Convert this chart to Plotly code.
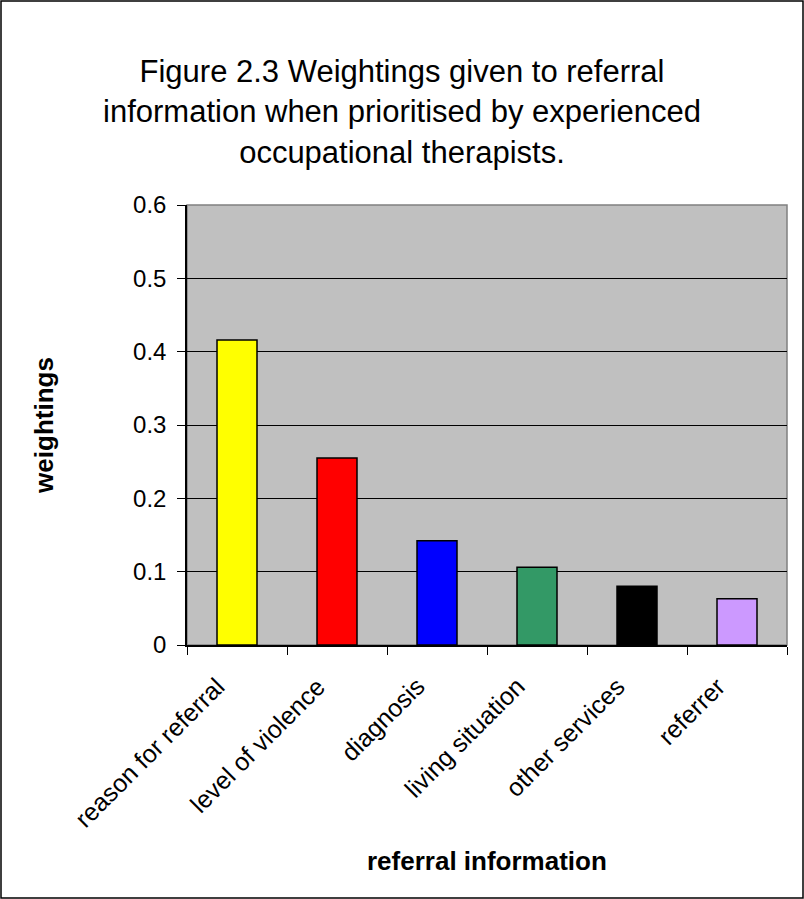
import plotly.graph_objects as go

categories = ["reason for referral", "level of violence", "diagnosis",
              "living situation", "other services", "referrer"]
weightings = [0.416, 0.255, 0.142, 0.106, 0.080, 0.063]
bar_colors = ["#FFFF00", "#FF0000", "#0000FF", "#339966", "#000000", "#CC99FF"]
y_ticks = [0, 0.1, 0.2, 0.3, 0.4, 0.5, 0.6]
y_tick_labels = ["0", "0.1", "0.2", "0.3", "0.4", "0.5", "0.6"]

W, H = 804, 899
L, R, T, B = 187, 17, 205, 254
pw, ph = W - L - R, H - T - B

def px_to_paper_x(px):
    return (px - L) / pw

def px_to_paper_y(py):
    return (H - B - py) / ph

FONT = "Liberation Sans, Arial, sans-serif"

fig = go.Figure()
fig.add_trace(go.Bar(
    x=categories, y=weightings,
    marker=dict(color=bar_colors, line=dict(color="black", width=1.5)),
    width=0.4,
))

# rotated category labels as annotations for precise placement
annotations = []
for c in categories:
    annotations.append(dict(
        x=c, y=0, xref="x", yref="y", text=c, showarrow=False,
        textangle=-45, xanchor="right", yanchor="top",
        xshift=-4, yshift=-24,
        font=dict(family=FONT, size=25, color="black"),
    ))
annotations.append(dict(
    x=0.5, y=px_to_paper_y(861), xref="paper", yref="paper",
    text="<b>referral information</b>", showarrow=False,
    xanchor="center", yanchor="middle",
    font=dict(family=FONT, size=26, color="black"),
))

fig.update_layout(
    width=W, height=H,
    margin=dict(l=L, r=R, t=T, b=B, pad=0),
    paper_bgcolor="white",
    plot_bgcolor="#C0C0C0",
    showlegend=False,
    font=dict(family=FONT, color="black", size=24),
    title=dict(
        text="Figure 2.3 Weightings given to referral<br>information when prioritised by experienced<br>occupational therapists.",
        x=0.5, xanchor="center", xref="container",
        y=1 - 82 / H, yanchor="top", yref="container",
        font=dict(family=FONT, size=31, color="black"),
    ),
    xaxis=dict(
        tickson="boundaries",
        ticks="outside", ticklen=8, tickcolor="black",
        showline=True, linecolor="black", linewidth=1.5,
        showgrid=False,
        showticklabels=False,
        range=[-0.5, 5.5],
    ),
    yaxis=dict(
        range=[0, 0.6],
        tickvals=y_ticks, ticktext=y_tick_labels,
        ticks="outside", ticklen=8, tickcolor="black",
        showline=True, linecolor="black", linewidth=1.5,
        showgrid=True, gridcolor="black", gridwidth=1,
        zeroline=False,
        tickfont=dict(size=24),
        ticklabelstandoff=6,
        title=dict(text="<b>weightings</b>", font=dict(size=26), standoff=72),
    ),
    annotations=annotations,
    shapes=[
        dict(type="rect", xref="paper", yref="paper", x0=0, x1=1, y0=0, y1=1,
             line=dict(color="#808080", width=1.5), layer="below"),
        dict(type="rect", xref="paper", yref="paper",
             x0=px_to_paper_x(1), x1=px_to_paper_x(W - 1),
             y0=px_to_paper_y(H - 1), y1=px_to_paper_y(1),
             line=dict(color="black", width=1.5), layer="above"),
    ],
)

fig.write_html("out.html")
